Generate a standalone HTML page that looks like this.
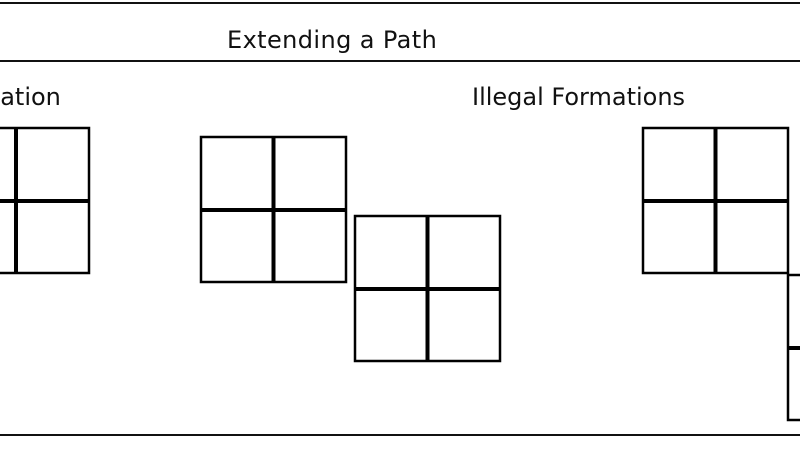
<!DOCTYPE html>
<html><head><meta charset="utf-8"><style>
html,body{margin:0;padding:0;background:#fff;width:800px;height:450px;overflow:hidden}
svg{display:block}
text{font-family:"DejaVu Sans","Liberation Sans",sans-serif;font-size:24px;fill:#111}
</style></head><body>
<svg width="800" height="450" viewBox="0 0 800 450" xmlns="http://www.w3.org/2000/svg">
<rect width="800" height="450" fill="#fff"/>
<line x1="0" y1="3" x2="800" y2="3" stroke="#111" stroke-width="2"/>
<line x1="0" y1="61" x2="800" y2="61" stroke="#111" stroke-width="2"/>
<line x1="0" y1="435" x2="800" y2="435" stroke="#111" stroke-width="2"/>
<text x="227" y="48" letter-spacing="0.4">Extending a Path</text>
<text x="-15" y="105">nation</text>
<text x="472" y="105">Illegal Formations</text>
<g fill="none" stroke="#000">
<rect x="-57" y="128" width="146" height="145" stroke-width="2.5"/>
<line x1="16" y1="128" x2="16" y2="273" stroke-width="4"/>
<line x1="-57" y1="201" x2="89" y2="201" stroke-width="4"/>
<rect x="201" y="137" width="145" height="145" stroke-width="2.5"/>
<line x1="273.5" y1="137" x2="273.5" y2="282" stroke-width="4"/>
<line x1="201" y1="210" x2="346" y2="210" stroke-width="4"/>
<rect x="355" y="216" width="145" height="145" stroke-width="2.5"/>
<line x1="427.5" y1="216" x2="427.5" y2="361" stroke-width="4"/>
<line x1="355" y1="289" x2="500" y2="289" stroke-width="4"/>
<rect x="643" y="128" width="145" height="145" stroke-width="2.5"/>
<line x1="715.5" y1="128" x2="715.5" y2="273" stroke-width="4"/>
<line x1="643" y1="201" x2="788" y2="201" stroke-width="4"/>
<rect x="788" y="275" width="145" height="145" stroke-width="2.5"/>
<line x1="788" y1="348" x2="933" y2="348" stroke-width="4"/>
</g>
</svg>
</body></html>
